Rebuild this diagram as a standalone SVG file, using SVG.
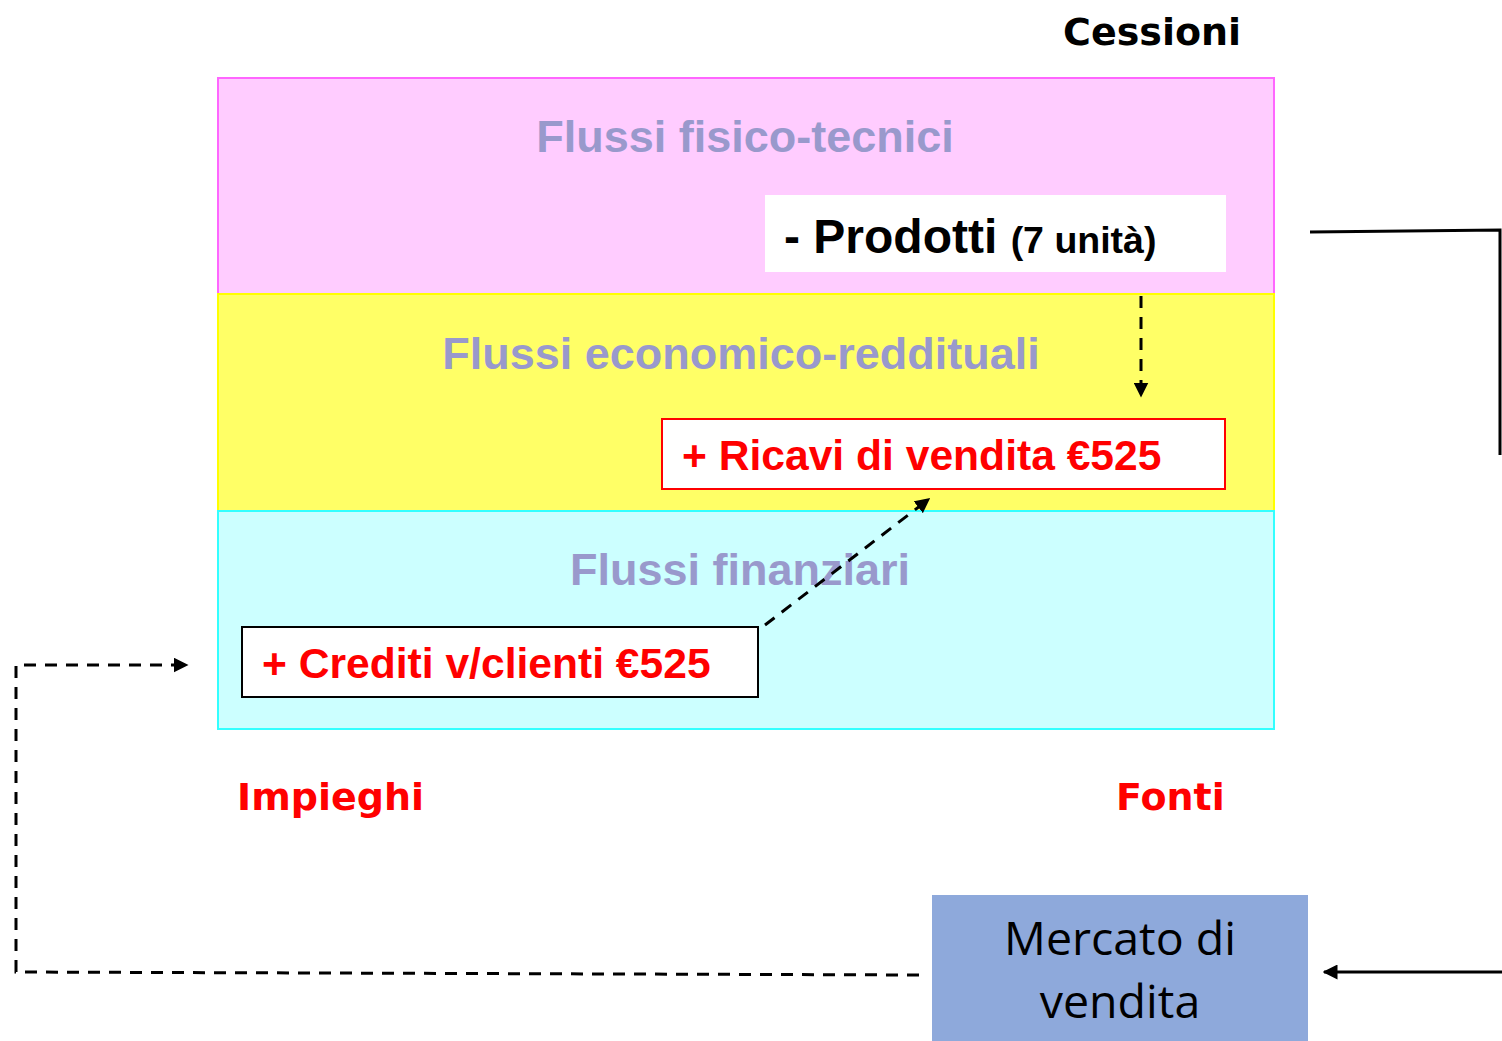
<svg xmlns="http://www.w3.org/2000/svg" width="1502" height="1041" viewBox="0 0 1502 1041">
<style>
.band{stroke-width:2}
.title{font-family:"Liberation Sans",Arial,sans-serif;font-weight:bold;font-size:45px;fill:#9999CC;text-anchor:middle}
.red{font-family:"Liberation Sans",Arial,sans-serif;font-weight:bold;font-size:42.6px;fill:#FF0000}
.comic{font-family:"DejaVu Sans",sans-serif;font-weight:bold;font-size:38px}
.dash{fill:none;stroke:#000;stroke-width:3;stroke-dasharray:12 9}
.solid{fill:none;stroke:#000;stroke-width:3}
</style>
<defs>
<marker id="ah" viewBox="0 0 10 10" refX="9" refY="5" markerWidth="5" markerHeight="5" orient="auto" markerUnits="strokeWidth">
<path d="M0,0 L10,5 L0,10 z" fill="#000"/>
</marker>
</defs>
<rect width="1502" height="1041" fill="#fff"/>
<g id="band-fisico">
<rect class="band" x="218" y="78" width="1056" height="216" fill="#FFCCFF" stroke="#FF66FF"/>
<text class="title" x="745" y="152">Flussi fisico-tecnici</text>
</g>
<g id="band-economico">
<rect class="band" x="218" y="294" width="1056" height="217" fill="#FFFF66" stroke="#FFFF00"/>
<text class="title" x="741" y="369">Flussi economico-reddituali</text>
</g>
<g id="band-finanziari">
<rect class="band" x="218" y="511" width="1056" height="218" fill="#CCFFFF" stroke="#33FFFF"/>
<text class="title" x="740" y="585">Flussi finanziari</text>
</g>
<g id="cessioni">
<text class="comic" x="1063" y="45" fill="#000" font-size="36.5">Cessioni</text>
</g>
<g id="prodotti">
<rect x="765" y="195" width="461" height="77" fill="#fff"/>
<text x="784" y="253" font-family="'Liberation Sans',Arial,sans-serif" font-weight="bold" fill="#000"><tspan font-size="48">- Prodotti </tspan><tspan font-size="37.5">(7 unità)</tspan></text>
</g>
<g id="ricavi">
<rect x="662" y="419" width="563" height="70" fill="#fff" stroke="#FF0000" stroke-width="2"/>
<text class="red" x="682" y="470">+ Ricavi di vendita €525</text>
</g>
<g id="crediti">
<rect x="242" y="627" width="516" height="70" fill="#fff" stroke="#000" stroke-width="2"/>
<text class="red" x="262" y="678">+ Crediti v/clienti €525</text>
</g>
<g id="impieghi">
<text class="comic" x="237" y="810" fill="#FF0000">Impieghi</text>
</g>
<g id="fonti">
<text class="comic" x="1116" y="810" fill="#FF0000">Fonti</text>
</g>
<g id="mercato">
<rect x="932" y="895" width="376" height="146" fill="#8EA9DB"/>
<text x="1120" y="955" font-family="'Open Sans','Liberation Sans',sans-serif" font-size="46.5" fill="#000" text-anchor="middle">Mercato di</text>
<text x="1120" y="1018" font-family="'Open Sans','Liberation Sans',sans-serif" font-size="46.5" fill="#000" text-anchor="middle">vendita</text>
</g>
<g id="connectors">
<path class="dash" d="M1141,296 V396" marker-end="url(#ah)"/>
<path class="dash" d="M765,625 L929,499" marker-end="url(#ah)"/>
<path class="dash" d="M919,975 L16,972 V665 H187" marker-end="url(#ah)"/>
<path class="solid" d="M1310,232 L1500,230 V455"/>
<path class="solid" d="M1502,972 H1324" marker-end="url(#ah)"/>
</g>
</svg>
